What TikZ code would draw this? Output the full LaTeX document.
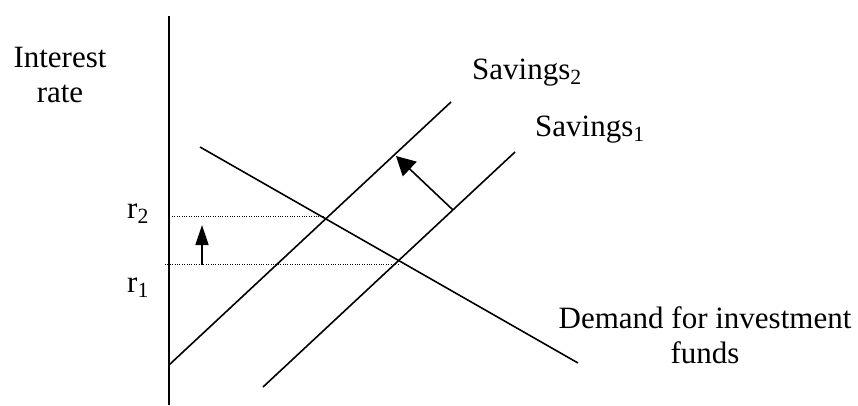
\documentclass[tikz,border=0pt]{standalone}
\usepackage{fontspec}
\setmainfont{Liberation Serif}
\usetikzlibrary{arrows.meta}

\begin{document}
\begin{tikzpicture}[
    x=1pt, y=-1pt,
    every node/.style={font=\fontsize{31}{35}\selectfont, inner sep=0pt},
    curve/.style={line width=1.6pt},
    guide/.style={line width=1pt, dash pattern=on 1pt off 1.4pt},
]
    \useasboundingbox (0,0) rectangle (858,405);

    % ── Interest rate axis ───────────────────────
    \coordinate (axtop) at (169,16);
    \coordinate (axbot) at (169,405);
    \draw[line width=2pt] (axtop) -- (axbot);
    \node[align=center, anchor=base] (ylabel) at (60,102) {Interest\\rate};

    % ── Savings curves ───────────────────────────
    \coordinate (sav2lo) at (169,365);
    \coordinate (sav2hi) at (451,102);
    \coordinate (sav1lo) at (263,387);
    \coordinate (sav1hi) at (515,152);
    \draw[curve] (sav2lo) -- (sav2hi);
    \draw[curve] (sav1lo) -- (sav1hi);
    \node[anchor=base west] (sav2label) at (472,79) {Savings\textsubscript{2}};
    \node[anchor=base west] (sav1label) at (535,136) {Savings\textsubscript{1}};

    % ── Demand for investment funds ──────────────
    \coordinate (demhi) at (200,147);
    \coordinate (demlo) at (578,363);
    \draw[curve] (demhi) -- (demlo);
    \node[align=center, anchor=base] (demlabel) at (705,363)
        {Demand for investment\\funds};

    % ── Equilibrium rates ────────────────────────
    \coordinate (rtwo) at (172,216);
    \coordinate (eqtwo) at (325,216);
    \coordinate (rone) at (165,264);
    \coordinate (eqone) at (399,264);
    \draw[guide] (rtwo) -- (eqtwo);
    \draw[guide] (rone) -- (eqone);
    \node[anchor=base west] (rtwolabel) at (127,218) {r\textsubscript{2}};
    \node[anchor=base west] (ronelabel) at (127,292) {r\textsubscript{1}};

    % ── Shift arrows ─────────────────────────────
    \coordinate (riselo) at (202,265);
    \coordinate (risehi) at (202,225);
    \draw[line width=1.6pt, -{Triangle[length=20pt, width=13pt]}] (riselo) -- (risehi);
    \coordinate (shiftfrom) at (453,210);
    \coordinate (shiftto) at (396,156);
    \draw[line width=1.6pt, -{Triangle[length=19pt, width=20pt]}] (shiftfrom) -- (shiftto);
\end{tikzpicture}
\end{document}
